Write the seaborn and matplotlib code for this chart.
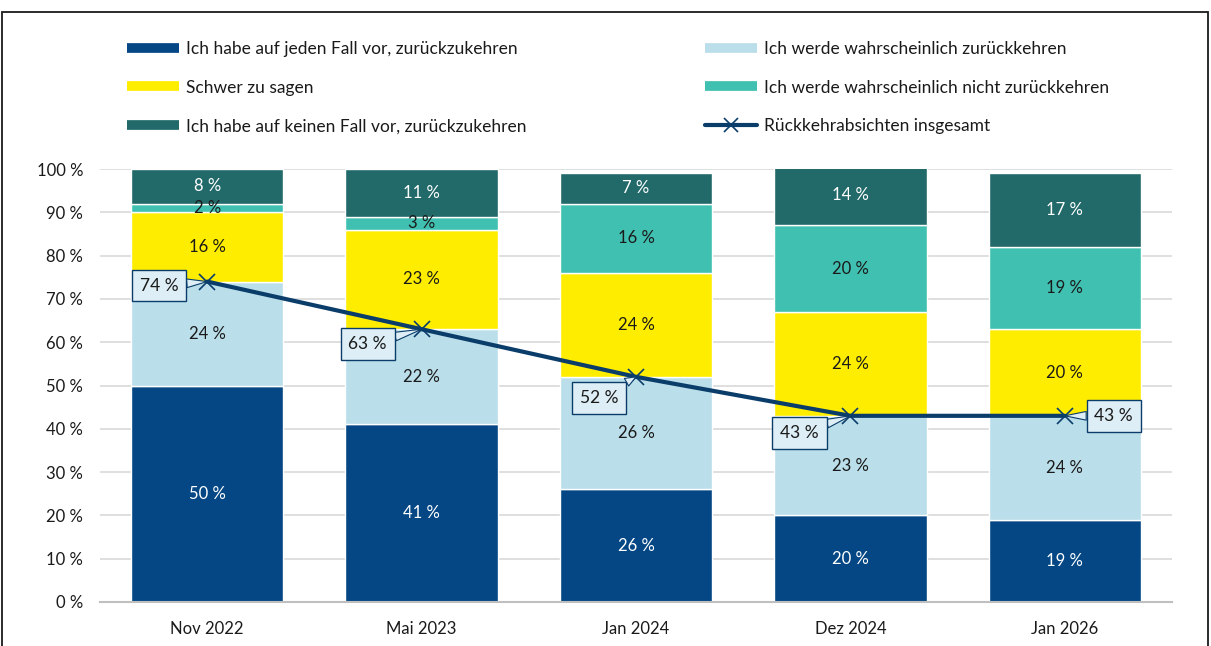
import numpy as np
import pandas as pd
import matplotlib
matplotlib.use("Agg")
import matplotlib.pyplot as plt
import seaborn as sns
from matplotlib.lines import Line2D
from matplotlib.patches import Rectangle

# ---- data ----
categories = ["Nov 2022", "Mai 2023", "Jan 2024", "Dez 2024", "Jan 2026"]
series_names = [
    "Ich habe auf jeden Fall vor, zurückzukehren",
    "Ich werde wahrscheinlich zurückkehren",
    "Schwer zu sagen",
    "Ich werde wahrscheinlich nicht zurückkehren",
    "Ich habe auf keinen Fall vor, zurückzukehren",
]
definitely_yes = [50, 41, 26, 20, 19]
probably_yes = [24, 22, 26, 23, 24]
hard_to_say = [16, 23, 24, 24, 20]
probably_no = [2, 3, 16, 20, 19]
definitely_no = [8, 11, 7, 14, 17]
total_return = [74, 63, 52, 43, 43]
line_name = "Rückkehrabsichten insgesamt"
ytick_values = list(range(0, 101, 10))

series_values = [definitely_yes, probably_yes, hard_to_say, probably_no, definitely_no]
colors = ["#044784", "#badeea", "#ffed00", "#40c0b1", "#22696a"]
text_colors = ["white", "#1a1a1a", "#1a1a1a", "#1a1a1a", "white"]
line_color = "#0b3d6b"
box_fc = "#deeef6"

# ---- style ----
sns.set_theme(style="white")
plt.rcParams["font.family"] = ["Lato", "DejaVu Sans"]

fig = plt.figure(figsize=(12.11, 6.46), dpi=100)
ax = fig.add_axes([100 / 1211, 1 - 602 / 646, (1172 - 100) / 1211, (602 - 169) / 646])

x_idx = np.arange(len(categories))
bottom = np.zeros(len(categories))
for name, vals, col, tc in zip(series_names, series_values, colors, text_colors):
    vals = np.array(vals, dtype=float)
    df = pd.DataFrame({"x": categories, "y": vals})
    sns.barplot(data=df, x="x", y="y", order=categories, color=col, width=0.71,
                bottom=bottom, edgecolor="white", linewidth=1.0, saturation=1,
                ax=ax, zorder=2)
    for i, v in enumerate(vals):
        ax.text(i, bottom[i] + v / 2, f"{int(v)} %", ha="center", va="center",
                color=tc, fontsize=12, zorder=5)
    bottom = bottom + vals

# total line
ldf = pd.DataFrame({"x": x_idx, "y": total_return})
sns.lineplot(data=ldf, x="x", y="y", color=line_color, linewidth=3, marker="x",
             markersize=11, markeredgewidth=1.2, markeredgecolor=line_color,
             sort=False, ax=ax, zorder=6, legend=False)

# callout boxes (offsets in pixels from the point to box centre)
offsets = [(-48, -4), (-54, -15), (-37, -21), (-51, -17), (49, 0)]
for i, (val, (dx, dy)) in enumerate(zip(total_return, offsets)):
    ax.annotate(f"{val} %", xy=(i, val), xytext=(dx, dy), textcoords="offset pixels",
                ha="center", va="center", fontsize=12.5, color="#1a1a1a", zorder=7,
                bbox=dict(boxstyle="square,pad=0.45", fc=box_fc, ec=line_color, lw=1.0),
                arrowprops=dict(arrowstyle="wedge,tail_width=0.5,shrink_factor=0.5",
                                fc=box_fc, ec=line_color, lw=0.8,
                                shrinkA=0, shrinkB=0))

# axes
ax.set_xlim(-0.5, len(categories) - 0.5)
ax.set_ylim(0, 100)
ax.set_yticks(ytick_values)
ax.set_yticklabels([f"{v} %" for v in ytick_values], fontsize=12, color="#1a1a1a")
ax.set_xticks(x_idx)
ax.set_xticklabels(categories, fontsize=12, color="#1a1a1a")
ax.set_xticks(np.arange(-0.5, len(categories)), minor=True)
ax.tick_params(axis="x", which="major", length=0, pad=14)
ax.tick_params(axis="x", which="minor", length=7, color="#bfbfbf", width=1.2)
ax.tick_params(axis="y", length=0, pad=12)
ax.set_xlabel("")
ax.set_ylabel("")
ax.yaxis.grid(True, color="#d9d9d9", linewidth=1.2)
ax.xaxis.grid(False)
ax.set_axisbelow(True)
for s in ["top", "right", "left"]:
    ax.spines[s].set_visible(False)
ax.spines["bottom"].set_color("#bfbfbf")
ax.spines["bottom"].set_linewidth(1.5)

# legend (two columns built as two legends)
col1 = [0, 2, 4]
col2 = [1, 3]
h1 = [Line2D([], [], color=colors[k], lw=7, solid_capstyle="butt") for k in col1]
l1 = [series_names[k] for k in col1]
h2 = [Line2D([], [], color=colors[k], lw=7, solid_capstyle="butt") for k in col2]
h2.append(Line2D([], [], color=line_color, lw=3, marker="x", markersize=10,
                 markeredgewidth=1.2))
l2 = [series_names[k] for k in col2] + [line_name]
leg_kw = dict(loc="upper left", frameon=False, fontsize=12.5, handlelength=3.0,
              handletextpad=0.4, labelspacing=1.3, borderaxespad=0, borderpad=0)
leg1 = fig.legend(h1, l1, bbox_to_anchor=(127 / 1211, 1 - 41 / 646), **leg_kw)
leg2 = fig.legend(h2, l2, bbox_to_anchor=(705 / 1211, 1 - 41 / 646), **leg_kw)
for leg in (leg1, leg2):
    for t in leg.get_texts():
        t.set_color("#1a1a1a")

# outer frame
fig.add_artist(Rectangle((2 / 1211, -0.05), 1206 / 1211, 1.05 - 12 / 646,
                         transform=fig.transFigure, fill=False, ec="#1a1a1a", lw=1.3))

fig.savefig("out.png", dpi=100)
